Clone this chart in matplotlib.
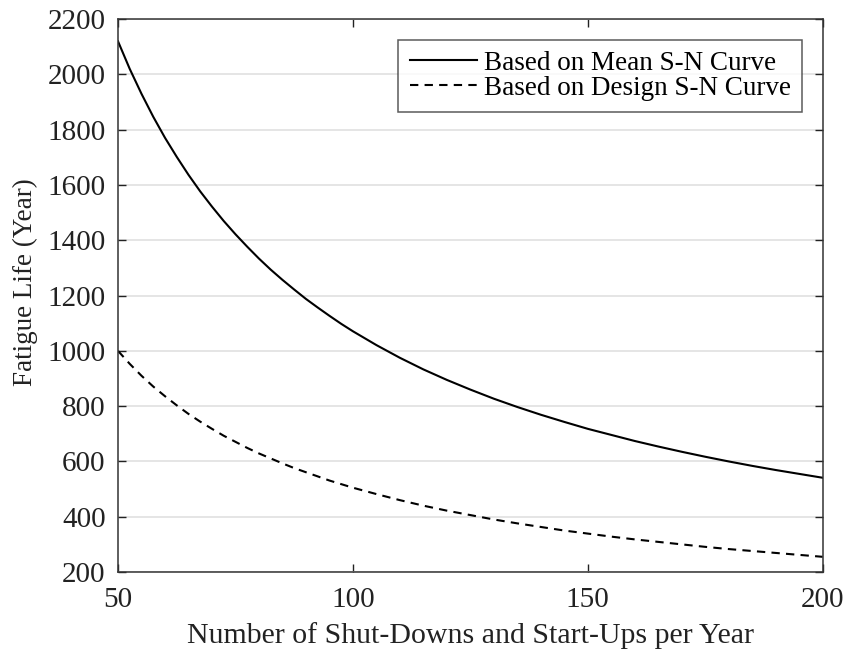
import matplotlib
matplotlib.use("Agg")
import matplotlib.pyplot as plt

cycles = [50, 52.5, 55, 57.5, 60, 62.5, 65, 67.5, 70, 72.5, 75, 77.5, 80, 82.5, 85,
          87.5, 90, 92.5, 95, 97.5, 100, 105, 110, 115, 120, 125,
          130, 135, 140, 145, 150, 155, 160, 165, 170, 175, 180, 185, 190, 195, 200]
life_mean = [2120, 2020, 1930, 1847, 1771, 1702, 1637, 1577, 1522, 1470, 1422, 1377,
             1334, 1294, 1257, 1222, 1188, 1157, 1127, 1098, 1071, 1021,
             975, 933, 895, 860, 827, 797, 769, 743, 718, 696, 674, 654, 635, 617,
             600, 584, 569, 555, 541]
life_design = [1000, 953, 910, 871, 836, 803, 772, 744, 718, 693, 671, 649, 629, 611,
               593, 576, 561, 546, 531, 518, 505, 482, 460, 440,
               422, 406, 390, 376, 363, 350, 339, 328, 318, 309, 300, 291, 283, 276,
               269, 262, 255]
xticks = [50, 100, 150, 200]
yticks = list(range(200, 2201, 200))

plt.rcParams['font.family'] = ['Liberation Serif', 'DejaVu Serif']

fig = plt.figure(figsize=(8.49, 6.55), dpi=100)
ax = fig.add_axes([0.139, 0.1267, 0.830, 0.844])

ax.plot(cycles, life_mean, color='black', lw=1.5, label='Based on Mean S-N Curve')
ax.plot(cycles, life_design, color='black', lw=1.5, ls=(0, (4, 3)),
        label='Based on Design S-N Curve')

ax.set_xlim(50, 200)
ax.set_ylim(200, 2200)
ax.set_xticks(xticks)
ax.set_yticks(yticks)
ax.yaxis.grid(True, color='#e3e3e3', lw=1.3)
ax.set_axisbelow(True)
ax.tick_params(direction='in', length=5.5, width=1, top=True, right=True,
               labelsize=21, colors='#222222')
ax.tick_params(axis='x', pad=11)
ax.tick_params(axis='y', pad=9)
for s in ax.spines.values():
    s.set_linewidth(1.1)
    s.set_color('#333333')

ax.set_xlabel('Number of Shut-Downs and Start-Ups per Year', fontsize=21.5,
              color='#222222', labelpad=6)
ax.set_ylabel('Fatigue Life (Year)', fontsize=19.5, color='#222222')
ax.yaxis.set_label_coords(-0.1136, 0.524)

leg = ax.legend(loc='upper right', fontsize=19.5, frameon=True, fancybox=False,
                edgecolor='#333333', handlelength=2.5, handletextpad=0.25,
                borderpad=0.42, labelspacing=0.0, borderaxespad=0.75)
leg.get_frame().set_linewidth(1.1)

fig.savefig('out.png', dpi=100)
